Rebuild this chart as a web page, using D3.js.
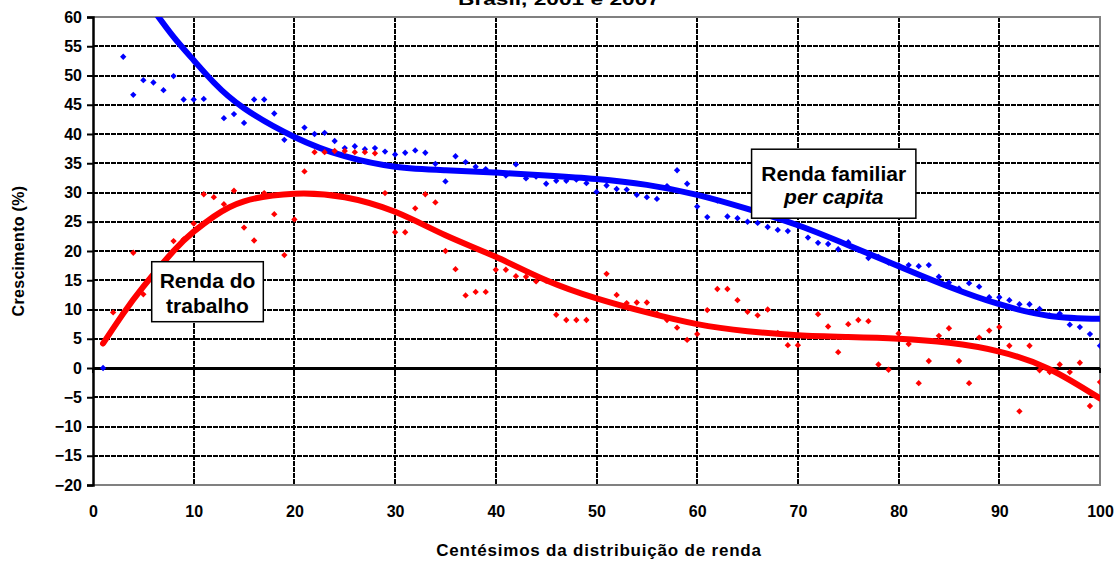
<!DOCTYPE html>
<html>
<head>
<meta charset="utf-8">
<script src="https://cdn.jsdelivr.net/npm/d3@7"></script>
<style>
  html, body { margin: 0; padding: 0; background: #fff; }
  svg { display: block; font-family: "Liberation Sans", Arial, sans-serif; }
</style>
</head>
<body>
<svg id="chart" width="1117" height="562"></svg>
<script>
// Centésimos 1..100
const percentis = d3.range(1, 101);

// Crescimento da renda familiar per capita (%), por centésimo
const rendaFamiliar = [
  0, null, 53.2, 46.7, 49.2, 48.8, 47.5, 49.9, 45.9, 45.9,
  46.0, 48.8, 42.7, 43.4, 41.9, 45.9, 45.9, 43.5, 39.0, 39.5,
  41.1, 40.0, 40.2, 38.8, 37.6, 37.9, 37.4, 37.6, 37.0, 36.5,
  36.8, 37.2, 36.8, 34.9, 31.9, 36.2, 35.2, 34.4, 34.0, 33.4,
  32.9, 34.8, 32.4, 32.7, 31.5, 32.0, 32.0, 32.2, 31.6, 30.1,
  31.2, 30.6, 30.5, 29.6, 29.2, 28.9, 31.1, 33.8, 31.5, 27.6,
  25.8, 28.6, 25.9, 25.6, 25.0, 24.8, 24.1, 23.6, 23.4, 24.3,
  22.3, 21.4, 21.2, 20.3, 21.5, 20.2, 18.8, 19.0, 18.0, 17.6,
  17.6, 17.4, 17.6, 15.6, 14.6, 13.6, 14.5, 13.9, 12.1, 12.1,
  11.6, 10.9, 10.9, 10.1, 9.0, 9.3, 7.4, 7.0, 5.8, 3.8
];

// Crescimento da renda do trabalho (%), por centésimo
const rendaTrabalho = [
  4.2, 9.5, 9.4, 19.7, 12.6, 16.0, 17.0, 21.7, 22.0, 24.7,
  29.7, 29.2, 28.0, 30.3, 24.0, 21.8, 29.9, 26.3, 19.3, 25.4,
  33.6, 36.9, 36.9, 37.1, 37.1, 36.9, 36.9, 36.7, 29.9, 23.2,
  23.2, 27.3, 29.7, 28.3, 20.0, 16.9, 12.4, 13.0, 13.0, 16.8,
  16.8, 15.7, 15.6, 14.8, 14.9, 9.1, 8.2, 8.2, 8.2, 11.9,
  16.1, 12.5, 11.1, 11.2, 11.2, 9.3, 8.2, 6.9, 4.8, 5.8,
  9.9, 13.5, 13.5, 11.6, 9.6, 9.0, 10.0, 6.0, 3.9, 3.9,
  5.4, 9.2, 7.1, 2.7, 7.5, 8.2, 8.0, 0.6, -0.3, 5.9,
  4.1, -2.6, 1.2, 5.5, 6.8, 1.2, -2.6, 5.2, 6.4, 7.0,
  3.8, -7.4, 3.8, -0.4, -0.7, 0.6, -0.7, 0.9, -6.5, -2.4
];

// Linhas de tendência (valores nos centésimos indicados)
const tendFamiliarX = [6, 8, 10, 12, 15, 20, 25, 30, 35, 40, 45, 50, 55, 60, 65, 70, 75, 80, 85, 90, 95, 100];
const tendFamiliarY = [61.2, 56.6, 52.6, 48.8, 44.4, 39.5, 36.2, 34.4, 33.8, 33.4, 32.9, 32.3, 31.3, 29.6, 27.2, 24.4, 21.0, 17.4, 13.9, 10.9, 8.9, 8.4];
const tendTrabalhoX = [1, 3, 5, 8, 10, 12, 15, 20, 25, 30, 35, 40, 45, 50, 55, 60, 65, 70, 75, 80, 85, 90, 95, 100];
const tendTrabalhoY = [4.2, 9.3, 13.9, 20.0, 23.3, 25.9, 28.5, 29.8, 29.2, 26.7, 22.7, 19.0, 15.0, 11.9, 9.5, 7.5, 6.3, 5.6, 5.3, 5.0, 4.3, 2.8, -0.2, -5.2];

const xTicks = [0, 10, 20, 30, 40, 50, 60, 70, 80, 90, 100];
const yTicks = [-20, -15, -10, -5, 0, 5, 10, 15, 20, 25, 30, 35, 40, 45, 50, 55, 60];

const titulo = "Brasil, 2001 e 2007";
const tituloEixoX = "Centésimos da distribuição de renda";
const tituloEixoY = "Crescimento (%)";

// ---- layout ----
const plotLeft = 93, plotRight = 1100, plotTop = 17, plotBottom = 485;
const x = d3.scaleLinear().domain([0, 100]).range([plotLeft, plotRight]);
const y = d3.scaleLinear().domain([-20, 60]).range([plotBottom, plotTop]);
const px = v => Math.round(v);

const svg = d3.select("#chart");

svg.append("defs").append("clipPath").attr("id", "plot-clip")
  .append("rect").attr("x", plotLeft).attr("y", plotTop)
  .attr("width", plotRight - plotLeft).attr("height", plotBottom - plotTop);

// Title (sits at the very top edge of the page)
svg.append("text")
  .attr("x", 458).attr("y", 5)
  .attr("textLength", 202).attr("lengthAdjust", "spacingAndGlyphs")
  .attr("font-size", 17).attr("font-weight", "bold")
  .text(titulo);

// Gridlines: dashed black, pixel-aligned
const grid = svg.append("g").attr("shape-rendering", "crispEdges");
grid.selectAll("line.h")
  .data(yTicks.filter(d => d !== 0 && d !== 60 && d !== -20))
  .join("line").attr("class", "h")
  .attr("x1", plotLeft).attr("x2", plotRight)
  .attr("y1", d => px(y(d))).attr("y2", d => px(y(d)))
  .attr("stroke", "#000").attr("stroke-width", 2)
  .attr("stroke-dasharray", "5,1");

grid.selectAll("line.v")
  .data(xTicks.filter(d => d !== 0 && d !== 100))
  .join("line").attr("class", "v")
  .attr("x1", d => px(x(d))).attr("x2", d => px(x(d)))
  .attr("y1", plotTop).attr("y2", plotBottom)
  .attr("stroke", "#000").attr("stroke-width", 2)
  .attr("stroke-dasharray", "5,1");

// Plot border (top, right, bottom)
svg.append("path")
  .attr("d", `M${plotLeft},${plotTop}H${plotRight}V${plotBottom}H${plotLeft}`)
  .attr("stroke", "#808080").attr("stroke-width", 2).attr("fill", "none")
  .attr("shape-rendering", "crispEdges");

// Zero line and its ticks
svg.append("line")
  .attr("x1", plotLeft).attr("x2", plotRight)
  .attr("y1", px(y(0))).attr("y2", px(y(0)))
  .attr("stroke", "#000").attr("stroke-width", 3)
  .attr("shape-rendering", "crispEdges");
svg.append("g").attr("shape-rendering", "crispEdges").selectAll("line")
  .data(xTicks)
  .join("line")
  .attr("x1", d => px(x(d))).attr("x2", d => px(x(d)))
  .attr("y1", px(y(0))).attr("y2", px(y(0)) + 5)
  .attr("stroke", "#000").attr("stroke-width", 2);

// Y axis
const yAxis = svg.append("g")
  .attr("transform", `translate(${plotLeft},0)`)
  .call(d3.axisLeft(y).tickValues(yTicks).tickSize(6).tickPadding(5).tickFormat(d3.format("d")));
yAxis.select(".domain").attr("stroke", "#000").attr("stroke-width", 2.5);
yAxis.selectAll(".tick line").attr("stroke", "#000").attr("stroke-width", 2);
yAxis.selectAll(".tick text")
  .attr("font-size", 16).attr("font-weight", "bold")
  .attr("font-family", "'Liberation Sans', Arial, sans-serif").attr("fill", "#000");

// X axis labels (at the bottom of the plot)
const xAxis = svg.append("g")
  .attr("transform", `translate(0,${plotBottom})`)
  .call(d3.axisBottom(x).tickValues(xTicks).tickSize(0).tickPadding(20.6).tickFormat(d3.format("d")));
xAxis.select(".domain").remove();
xAxis.selectAll(".tick text")
  .attr("font-size", 16).attr("font-weight", "bold")
  .attr("font-family", "'Liberation Sans', Arial, sans-serif").attr("fill", "#000");

// Axis titles
svg.append("text")
  .attr("x", 599).attr("y", 556)
  .attr("text-anchor", "middle")
  .attr("font-size", 17).attr("font-weight", "bold")
  .attr("letter-spacing", 0.8)
  .text(tituloEixoX);
svg.append("text")
  .attr("transform", `translate(24,${(plotTop + plotBottom) / 2}) rotate(-90)`)
  .attr("text-anchor", "middle")
  .attr("font-size", 16).attr("font-weight", "bold")
  .attr("letter-spacing", 0.3)
  .text(tituloEixoY);

// Trend lines
const plot = svg.append("g").attr("clip-path", "url(#plot-clip)");
const line = d3.line()
  .x(d => x(d[0])).y(d => y(d[1]))
  .curve(d3.curveNatural);

plot.append("path")
  .datum(d3.zip(tendFamiliarX, tendFamiliarY))
  .attr("d", line)
  .attr("fill", "none").attr("stroke", "#0000ff")
  .attr("stroke-width", 6).attr("stroke-linecap", "round");

plot.append("path")
  .datum(d3.zip(tendTrabalhoX, tendTrabalhoY))
  .attr("d", line)
  .attr("fill", "none").attr("stroke", "#ff0000")
  .attr("stroke-width", 6).attr("stroke-linecap", "round");

// Scatter points (diamonds)
const diamond = d3.symbol().type(d3.symbolSquare).size(20);
function drawPoints(values, color) {
  plot.append("g").selectAll("path")
    .data(percentis.map((p, i) => [p, values[i]]).filter(d => d[1] !== null))
    .join("path")
    .attr("d", diamond)
    .attr("transform", d => `translate(${x(d[0])},${y(d[1])}) rotate(45)`)
    .attr("fill", color);
}
drawPoints(rendaFamiliar, "#0000ff");
drawPoints(rendaTrabalho, "#ff0000");

// Series labels
function labelBox(bx, by, w, h, lines) {
  const g = svg.append("g").attr("transform", `translate(${x(bx)},${y(by)})`);
  g.append("rect").attr("width", w).attr("height", h)
    .attr("fill", "#fff").attr("stroke", "#000").attr("stroke-width", 1.5);
  lines.forEach(l => {
    g.append("text")
      .attr("x", w / 2).attr("y", l.dy)
      .attr("text-anchor", "middle")
      .attr("font-size", 21).attr("font-weight", "bold")
      .attr("font-style", l.italic ? "italic" : "normal")
      .text(l.text);
  });
}
labelBox(5.83, 18.17, 111.6, 60, [
  { text: "Renda do", dy: 26.6 },
  { text: "trabalho", dy: 51.6 }
]);
labelBox(65.4, 37.4, 164.3, 69, [
  { text: "Renda familiar", dy: 31.7 },
  { text: "per capita", dy: 55, italic: true }
]);
</script>
</body>
</html>
